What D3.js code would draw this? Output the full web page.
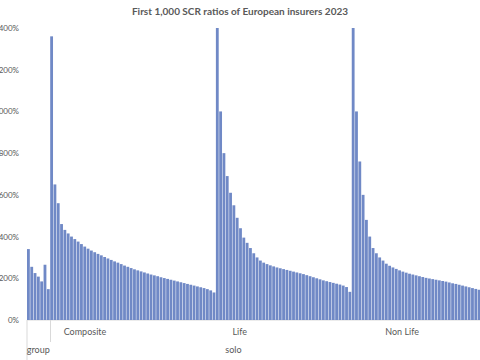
<!DOCTYPE html>
<html>
<head>
<meta charset="utf-8">
<script src="https://cdn.jsdelivr.net/npm/d3@7.9.0/dist/d3.min.js"></script>
<style>
  body { margin: 0; background: #fff; }
  svg { display: block; font-family: Lato, 'Open Sans', sans-serif; }
</style>
</head>
<body>
<svg id="chart" width="480" height="360"></svg>
<script>
const title = 'First 1,000 SCR ratios of European insurers 2023';

// SCR ratio in %, sorted high to low within each block
const groupVals = [340, 255, 225, 208, 185, 265, 148];
const compositeVals = [1360, 650, 560, 460, 432, 415, 400, 388, 376, 364,
  352, 342, 333, 325, 317, 310, 302, 295, 288, 281,
  275, 268, 261, 255, 249, 243, 238, 233, 228, 223,
  218, 214, 210, 205, 201, 197, 193, 189, 185, 181,
  177, 173, 169, 165, 161, 157, 153, 148, 142, 132];
const lifeVals = [1480, 1000, 800, 690, 610, 550, 490, 440, 395, 370,
  345, 320, 300, 285, 275, 268, 262, 257, 252, 248,
  244, 240, 236, 232, 228, 224, 220, 215, 210, 205,
  200, 195, 190, 186, 182, 178, 174, 170, 165, 158, 135];
const nonLifeVals = [1480, 1000, 760, 600, 480, 400, 345, 320, 300, 285,
  270, 260, 252, 245, 238, 232, 227, 222, 218, 214,
  210, 206, 202, 199, 196, 193, 190, 187, 184, 180,
  176, 173, 169, 165, 161, 157, 153, 149, 145];

const typeLabels = ['Composite', 'Life', 'Non Life'];
const levelLabels = ['group', 'solo'];
const yTicks = [0, 200, 400, 600, 800, 1000, 1200, 1400];

const blocks = [
  { level: 'group', type: null, vals: groupVals },
  { level: 'solo', type: 'Composite', vals: compositeVals },
  { level: 'solo', type: 'Life', vals: lifeVals },
  { level: 'solo', type: 'Non Life', vals: nonLifeVals }
];

const rows = [];
blocks.forEach(b => b.vals.forEach(v => rows.push({ level: b.level, type: b.type, value: v, i: rows.length })));

const svg = d3.select('#chart');
const textCol = '#595959';
const lineCol = '#d9d9d9';

const x = d3.scaleBand()
  .domain(rows.map(d => d.i))
  .range([27, 480.5])
  .paddingInner(0.15)
  .paddingOuter(0);

const y = d3.scaleLinear()
  .domain([0, 1400])
  .range([320, 28])
  .clamp(true);

svg.append('text')
  .attr('x', 240)
  .attr('y', 15)
  .attr('text-anchor', 'middle')
  .attr('font-size', 10)
  .attr('font-weight', 700)
  .attr('fill', textCol)
  .text(title);

// y axis: labels only (chart is cropped on the left, as in the source)
const yAxis = svg.append('g')
  .attr('transform', 'translate(27,0)')
  .call(d3.axisLeft(y).tickValues(yTicks).tickFormat(d => d + '%').tickSize(0).tickPadding(8));
yAxis.select('.domain').remove();
yAxis.selectAll('text')
  .attr('font-family', 'Lato, sans-serif')
  .attr('font-size', 8)
  .attr('fill', textCol);

// baseline
svg.append('line')
  .attr('x1', 27).attr('x2', 480)
  .attr('y1', y(0)).attr('y2', y(0))
  .attr('stroke', lineCol);

svg.append('g')
  .selectAll('rect')
  .data(rows)
  .join('rect')
  .attr('x', d => x(d.i))
  .attr('width', x.bandwidth())
  .attr('y', d => y(d.value))
  .attr('height', d => y(0) - y(d.value))
  .attr('fill', '#7089c6');

// multi-level category axis
const step = x.step();
const left = x.range()[0];
const edge = idx => left + idx * step;
const firstOf = lvl => rows.find(d => d.level === lvl).i;
const firstType = t => rows.find(d => d.type === t).i;

svg.append('line')
  .attr('x1', left).attr('x2', left)
  .attr('y1', y(0)).attr('y2', 360)
  .attr('stroke', lineCol);
svg.append('line')
  .attr('x1', Math.round(edge(firstOf('solo'))) + 0.5).attr('x2', Math.round(edge(firstOf('solo'))) + 0.5)
  .attr('y1', y(0)).attr('y2', 342)
  .attr('stroke', lineCol);

// label offsets (in bars) from block start, as Excel placed them
const typeOffset = { 'Composite': 10.5, 'Life': 7.2, 'Non Life': 15.2 };
svg.append('g')
  .selectAll('text')
  .data(typeLabels)
  .join('text')
  .attr('x', t => edge(firstType(t) + typeOffset[t]))
  .attr('y', 335)
  .attr('text-anchor', 'middle')
  .attr('font-size', 9)
  .attr('fill', textCol)
  .text(t => t);

const levelOffset = { group: 3.4, solo: 55.3 };
svg.append('g')
  .selectAll('text')
  .data(levelLabels)
  .join('text')
  .attr('x', l => edge(firstOf(l) + levelOffset[l]))
  .attr('y', 353)
  .attr('text-anchor', 'middle')
  .attr('font-size', 9)
  .attr('fill', textCol)
  .text(l => l);
</script>
</body>
</html>
